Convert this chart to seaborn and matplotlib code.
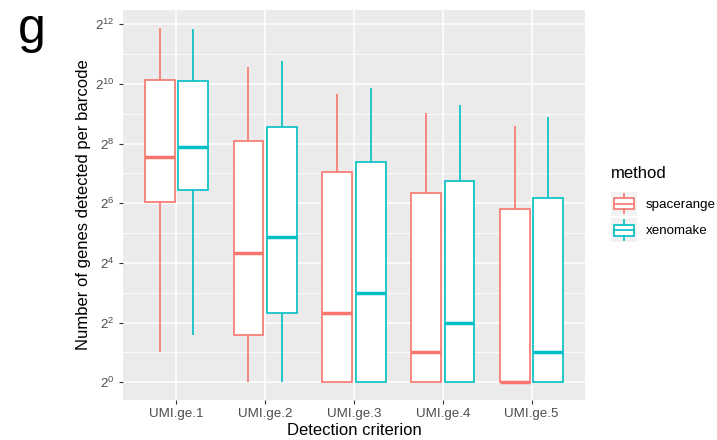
import numpy as np
import pandas as pd
import matplotlib
matplotlib.use("Agg")
import matplotlib.pyplot as plt
import seaborn as sns
from matplotlib.legend_handler import HandlerBase
from matplotlib.patches import Rectangle, Patch
from matplotlib.lines import Line2D
from matplotlib.ticker import FixedLocator, NullFormatter

# ---------------- data ----------------
criteria = ["UMI.ge.1", "UMI.ge.2", "UMI.ge.3", "UMI.ge.4", "UMI.ge.5"]
methods = ["spacerange", "xenomake"]
colors = ["#F8766D", "#00BFC4"]
# five-number summaries (min, q1, median, q3, max) of genes per barcode
spacerange_stats = [
    [2, 66, 189, 1113, 3770],
    [1, 3, 20, 274, 1499],
    [1, 1, 5, 132, 809],
    [1, 1, 2, 82, 523],
    [1, 1, 1, 56, 385],
]
xenomake_stats = [
    [3, 87, 234, 1082, 3666],
    [1, 5, 29, 372, 1734],
    [1, 1, 8, 165, 936],
    [1, 1, 4, 106, 630],
    [1, 1, 2, 73, 471],
]
ytick_exponents = [0, 2, 4, 6, 8, 10, 12]
yminor_exponents = [1, 3, 5, 7, 9, 11]

rows = []
for m, stats in zip(methods, [spacerange_stats, xenomake_stats]):
    for c, vals in zip(criteria, stats):
        for v in vals:
            rows.append({"criterion": c, "method": m, "genes": v})
df = pd.DataFrame(rows)

# ---------------- style ----------------
plt.rcParams["font.family"] = ["Liberation Sans", "DejaVu Sans"]
plt.rcParams["mathtext.fontset"] = "custom"
plt.rcParams["mathtext.rm"] = "Liberation Sans"
plt.rcParams["mathtext.it"] = "Liberation Sans:italic"

W, H = 717, 440
fig = plt.figure(figsize=(W / 100, H / 100), dpi=100)
L, R, T, B = 123, 585, 10, 400
ax = fig.add_axes([L / W, (H - B) / H, (R - L) / W, (B - T) / H])
ax.set_facecolor("#EBEBEB")
for s in ax.spines.values():
    s.set_visible(False)

sns.boxplot(
    data=df, x="criterion", y="genes", hue="method",
    order=criteria, hue_order=methods, palette=colors,
    log_scale=2, whis=(0, 100), showcaps=False, showfliers=False,
    width=0.75, gap=0.1, linewidth=1.2, legend=False, ax=ax,
    medianprops=dict(linewidth=2.5),
)

for cont, col in zip(ax.containers, colors):
    for b in cont.boxes:
        b.set_facecolor("white")
        b.set_edgecolor(col)
        b.set_linewidth(1.2)
        b.set_zorder(2)
    for w in cont.whiskers:
        w.set_color(col)
        w.set_linewidth(1.2)
    for md in cont.medians:
        md.set_color(col)
        md.set_linewidth(2.5)
        md.set_zorder(3)

ax.set_xlim(-0.6, 4.6)
ax.set_ylim(2 ** -0.594, 2 ** 12.474)
ax.yaxis.set_major_locator(FixedLocator([2.0 ** e for e in ytick_exponents]))
ax.set_yticklabels([r"$2^{%d}$" % e for e in ytick_exponents])
ax.yaxis.set_minor_locator(FixedLocator([2.0 ** e for e in yminor_exponents]))
ax.yaxis.set_minor_formatter(NullFormatter())

ax.grid(True, which="major", color="white", linewidth=1.1)
ax.grid(True, which="minor", axis="y", color="white", linewidth=0.55)
ax.set_axisbelow(True)
ax.tick_params(axis="both", which="major", length=3, width=0.8, color="#333333",
               labelcolor="#4D4D4D", labelsize=9.6, pad=3)
ax.tick_params(axis="y", which="minor", length=0)

ax.set_xlabel("Detection criterion", fontsize=12, color="black")
ax.set_ylabel("Number of genes detected per barcode", fontsize=12, color="black")
ax.xaxis.set_label_coords(0.5, -(23 / 390))
ax.yaxis.set_label_coords((91 - L) / (R - L), 0.5)

fig.text(18 / W, (H - 43) / H, "g", fontsize=36, va="baseline", ha="left")


class BoxKeyHandler(HandlerBase):
    def create_artists(self, legend, orig_handle, xdescent, ydescent,
                       width, height, fontsize, trans):
        col = orig_handle.get_edgecolor()
        x0, y0 = -xdescent, -ydescent
        bg = Rectangle((x0, y0), width, height, facecolor="#F2F2F2",
                       edgecolor="none", transform=trans)
        box = Rectangle((x0 + 0.1 * width, y0 + 0.27 * height), 0.8 * width,
                        0.46 * height, facecolor="white", edgecolor=col,
                        lw=1.2, transform=trans)
        med = Line2D([x0 + 0.1 * width, x0 + 0.9 * width], [y0 + 0.5 * height] * 2,
                     color=col, lw=1.2, transform=trans)
        w1 = Line2D([x0 + 0.5 * width] * 2, [y0 + 0.1 * height, y0 + 0.27 * height],
                    color=col, lw=1.2, transform=trans)
        w2 = Line2D([x0 + 0.5 * width] * 2, [y0 + 0.73 * height, y0 + 0.9 * height],
                    color=col, lw=1.2, transform=trans)
        return [bg, box, med, w1, w2]


handles = [Patch(edgecolor=c, facecolor="white") for c in colors]
leg = fig.legend(handles, methods,
                 handler_map={Patch: BoxKeyHandler(xpad=0.0, ypad=0.0)},
                 loc="upper left", bbox_to_anchor=(611 / W, (H - 166) / H),
                 frameon=False, title="method", title_fontsize=12, fontsize=9.6,
                 handlelength=1.93, handleheight=2.43, labelspacing=0.165,
                 handletextpad=0.68, borderpad=0, borderaxespad=0,
                 alignment="left")
# ggplot puts a larger gap between the legend title and the keys
leg._legend_box.sep = 9.6 * 0.165 + 6.0

fig.savefig("out.png", dpi=100)
